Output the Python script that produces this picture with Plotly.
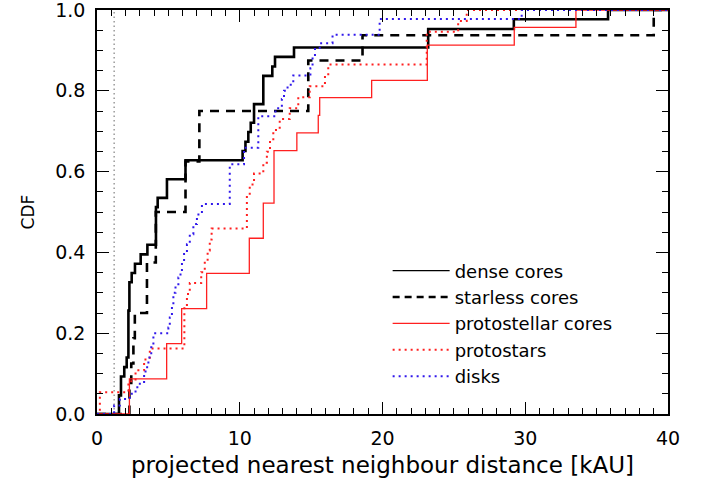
import plotly.graph_objects as go

# ---- data ----
dense_x = [0, 1.54, 1.68, 1.91, 2.08, 2.2, 2.27, 2.43, 2.66, 3.06, 3.53, 4.13, 4.25, 4.9, 6.2,
           10.2, 10.4, 10.6, 10.77, 11.0, 11.65, 12.28, 12.47, 13.8, 23.2, 29.2, 35.8, 40]
dense_y = [0, 0.046, 0.093, 0.116, 0.14, 0.256, 0.326, 0.349, 0.372, 0.395, 0.419, 0.512, 0.535,
           0.581, 0.628, 0.651, 0.674, 0.698, 0.721, 0.767, 0.837, 0.86, 0.884, 0.907, 0.953,
           0.977, 1.0, 1.0]

starless_x = [0, 2.27, 2.4, 2.55, 2.65, 3.5, 4.12, 6.2, 7.17, 14.8, 18.6, 39.0, 40]
starless_y = [0, 0.0625, 0.125, 0.1875, 0.25, 0.375, 0.5, 0.625, 0.75, 0.875, 0.9375, 1.0, 1.0]

protocore_x = [0, 2.27, 4.88, 5.93, 7.68, 10.67, 11.65, 12.4, 14.0, 15.5, 15.6, 19.24, 23.14,
               29.23, 33.55, 40]
protocore_y = [0, 0.087, 0.174, 0.261, 0.348, 0.435, 0.522, 0.652, 0.696, 0.739, 0.783, 0.826,
               0.913, 0.957, 1.0, 1.0]

protostar_x = [0, 0.2, 2.2, 2.7, 3.3, 3.7, 6.12, 6.3, 6.5, 7.3, 7.55, 7.75, 7.9, 8.03, 10.5,
               10.7, 11.0, 11.65, 11.9, 12.12, 12.35, 12.8, 13.5, 14.1, 14.9, 15.97, 16.2, 23.1,
               25.3, 25.9, 40]
protostar_y = [0, 0.054, 0.081, 0.108, 0.135, 0.162, 0.27, 0.297, 0.324, 0.351, 0.378, 0.405,
               0.432, 0.459, 0.541, 0.568, 0.595, 0.622, 0.649, 0.676, 0.703, 0.73, 0.757, 0.784,
               0.811, 0.838, 0.865, 0.946, 0.973, 1.0, 1.0]

disk_x = [0, 1.2, 1.6, 2.3, 2.7, 3.0, 3.3, 3.4, 3.6, 3.8, 3.95, 5.0, 5.1, 5.25, 5.35, 5.5, 5.7,
          5.85, 5.95, 6.1, 6.3, 6.5, 6.75, 7.0, 7.35, 9.3, 10.3, 11.3, 12.5, 12.95, 13.1, 13.35,
          13.75, 14.95, 15.1, 15.27, 15.6, 16.5, 19.8, 29.75, 40]
disk_y = [0, 0.021, 0.037, 0.05, 0.066, 0.079, 0.1, 0.116, 0.14, 0.165, 0.2, 0.214, 0.239, 0.268,
          0.3, 0.317, 0.338, 0.354, 0.375, 0.396, 0.42, 0.445, 0.47, 0.494, 0.52, 0.618, 0.659,
          0.737, 0.757, 0.78, 0.80, 0.815, 0.838, 0.856, 0.885, 0.906, 0.918, 0.939, 0.978, 1.0,
          1.0]

ref_line_x = 1.2

legend_names = ["dense cores", "starless cores", "protostellar cores", "protostars", "disks"]
x_ticks = [0, 10, 20, 30, 40]
y_ticks = [0.0, 0.2, 0.4, 0.6, 0.8, 1.0]

RED = "rgb(255,32,32)"
BLUE = "rgb(48,24,235)"
FONT = "DejaVu Sans"

series = [
    (dense_x, dense_y, dict(color="black", width=2.6, dash="solid"), dict(color="black", width=1.2, dash="solid")),
    (starless_x, starless_y, dict(color="black", width=2.6, dash="9px,7px"), dict(color="black", width=2.6, dash="7px,5px")),
    (protocore_x, protocore_y, dict(color=RED, width=1.3, dash="solid"), dict(color=RED, width=1.2, dash="solid")),
    (protostar_x, protostar_y, dict(color=RED, width=2, dash="2px,4px"), dict(color=RED, width=2, dash="2px,4px")),
    (disk_x, disk_y, dict(color=BLUE, width=2, dash="2px,4px"), dict(color=BLUE, width=2, dash="2px,4px")),
]

fig = go.Figure()

# reference vertical line
fig.add_trace(go.Scatter(x=[ref_line_x, ref_line_x], y=[0, 1], mode="lines",
                         line=dict(color="gray", width=1.2, dash="1.5px,3px"),
                         showlegend=False, hoverinfo="skip"))

for (xs, ys, ln, _), name in zip(series, legend_names):
    fig.add_trace(go.Scatter(x=xs, y=ys, mode="lines", line_shape="hv", line=ln,
                             name=name, showlegend=False))

# legend entries (thin samples like the reference)
for (_, _, _, lg), name in zip(series, legend_names):
    fig.add_trace(go.Scatter(x=[None], y=[None], mode="lines", line=lg, name=name,
                             showlegend=True))

axis_common = dict(
    showgrid=False, zeroline=False, showline=True, linecolor="black", linewidth=1.5,
    mirror="allticks", ticks="inside", tickcolor="black", tickwidth=1.2, automargin=False,
    ticklabeloverflow="allow",
    tickfont=dict(family=FONT, size=19, color="black"),
)

fig.update_xaxes(range=[0, 40], tickvals=x_ticks, ticklen=12,
                 minor=dict(dtick=1, ticks="inside", ticklen=6, tickcolor="black", tickwidth=1),
                 title=dict(text="projected nearest neighbour distance [kAU]",
                            font=dict(family=FONT, size=23, color="black"), standoff=9),
                 ticklabelstandoff=6, **axis_common)
fig.update_yaxes(range=[0, 1], tickvals=y_ticks, tickformat=".1f", ticklen=12,
                 minor=dict(dtick=0.05, ticks="inside", ticklen=6, tickcolor="black", tickwidth=1),
                 title=dict(text="CDF", font=dict(family=FONT, size=17, color="black"), standoff=16),
                 ticklabelstandoff=6, **axis_common)

fig.update_layout(
    width=707, height=485,
    margin=dict(l=97, r=39, t=10, b=71),
    plot_bgcolor="white", paper_bgcolor="white",
    legend=dict(x=0.509, y=0.40, xanchor="left", yanchor="top",
                bgcolor="rgba(0,0,0,0)", font=dict(family=FONT, size=18, color="black"),
                itemwidth=57, tracegroupgap=0),
)

fig.write_html("out.html")
